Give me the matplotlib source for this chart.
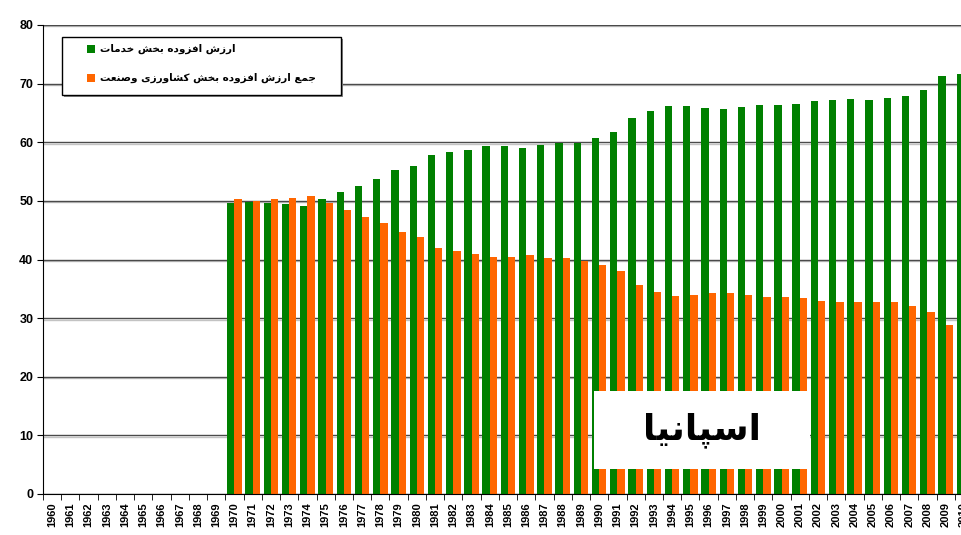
import matplotlib
matplotlib.use("Agg")
import matplotlib.pyplot as plt
import matplotlib.patheffects as pe
from matplotlib.patches import Rectangle
import numpy as np

# axis categories 1960..2010, data available from 1970
all_years = list(range(1960, 2011))
data_years = list(range(1970, 2011))

# value added share of services (%)
services = [49.6, 49.8, 49.6, 49.4, 49.1, 50.3, 51.5, 52.6, 53.7, 55.2,
            56.0, 57.9, 58.4, 58.75, 59.3, 59.3, 59.1, 59.6, 59.8, 59.9,
            60.8, 61.8, 64.2, 65.4, 66.1, 66.1, 65.8, 65.7, 66.0, 66.4,
            66.4, 66.5, 67.0, 67.2, 67.4, 67.2, 67.6, 67.9, 68.9, 71.3, 71.6]

# value added share of agriculture + industry (%)
agri_industry = [50.3, 49.9, 50.3, 50.45, 50.8, 49.6, 48.4, 47.2, 46.2, 44.7,
                 43.9, 42.0, 41.5, 41.0, 40.5, 40.5, 40.7, 40.2, 40.2, 39.8,
                 39.1, 38.1, 35.7, 34.4, 33.7, 33.9, 34.3, 34.3, 34.0, 33.6,
                 33.6, 33.5, 33.0, 32.8, 32.8, 32.8, 32.8, 32.1, 31.1, 28.9, 28.4]

label_services = "ارزش افزوده بخش خدمات"
label_agri = "جمع ارزش افزوده بخش کشاورزی وصنعت"
country = "اسپانیا"

# presentation forms: isolated, final, initial, medial
FORMS = {
    'ا': (0xFE8D, 0xFE8E, None, None),
    'ب': (0xFE8F, 0xFE90, 0xFE91, 0xFE92),
    'پ': (0xFB56, 0xFB57, 0xFB58, 0xFB59),
    'ت': (0xFE95, 0xFE96, 0xFE97, 0xFE98),
    'ج': (0xFE9D, 0xFE9E, 0xFE9F, 0xFEA0),
    'خ': (0xFEA5, 0xFEA6, 0xFEA7, 0xFEA8),
    'د': (0xFEA9, 0xFEAA, None, None),
    'ر': (0xFEAD, 0xFEAE, None, None),
    'ز': (0xFEAF, 0xFEB0, None, None),
    'س': (0xFEB1, 0xFEB2, 0xFEB3, 0xFEB4),
    'ش': (0xFEB5, 0xFEB6, 0xFEB7, 0xFEB8),
    'ص': (0xFEB9, 0xFEBA, 0xFEBB, 0xFEBC),
    'ع': (0xFEC9, 0xFECA, 0xFECB, 0xFECC),
    'ف': (0xFED1, 0xFED2, 0xFED3, 0xFED4),
    'ک': (0xFB8E, 0xFB8F, 0xFB90, 0xFB91),
    'م': (0xFEE1, 0xFEE2, 0xFEE3, 0xFEE4),
    'ن': (0xFEE5, 0xFEE6, 0xFEE7, 0xFEE8),
    'ه': (0xFEE9, 0xFEEA, 0xFEEB, 0xFEEC),
    'و': (0xFEED, 0xFEEE, None, None),
    'ی': (0xFBFC, 0xFBFD, 0xFBFE, 0xFBFF),
}


def shape(text):
    out = []
    for i, ch in enumerate(text):
        if ch not in FORMS:
            out.append(ch)
            continue
        f = FORMS[ch]
        prev = text[i - 1] if i > 0 else ''
        nxt = text[i + 1] if i + 1 < len(text) else ''
        join_prev = prev in FORMS and FORMS[prev][2] is not None
        join_next = f[2] is not None and nxt in FORMS
        if join_prev and join_next:
            c = f[3]
        elif join_prev:
            c = f[1]
        elif join_next:
            c = f[2]
        else:
            c = f[0]
        out.append(chr(c))
    return ''.join(out)[::-1]


green = '#008000'
orange = '#FF6600'

fig = plt.figure(figsize=(9.62, 5.35), dpi=100)
ax = fig.add_axes([43 / 962, 41 / 535, 930 / 962, 469 / 535])

x = np.array([all_years.index(y) for y in data_years])
w = 0.4
ax.bar(x - w / 2, services, width=w, color=green, zorder=2)
ax.bar(x + w / 2, agri_industry, width=w, color=orange, zorder=2)

ax.set_xlim(-0.5, len(all_years) - 0.5)
ax.set_ylim(0, 80)

ax.set_xticks(np.arange(len(all_years)))
ax.set_xticklabels([str(y) for y in all_years], rotation=90,
                   fontsize=8, fontweight='bold', family='Liberation Sans')
ax.set_xticks(np.arange(-0.5, len(all_years), 1), minor=True)
ax.tick_params(axis='x', which='major', length=0, pad=6)
ax.tick_params(axis='x', which='minor', length=4, direction='out', color='black')

ax.set_yticks(np.arange(0, 81, 10))
ax.set_yticklabels([str(v) for v in range(0, 81, 10)],
                   fontsize=9, fontweight='bold', family='Liberation Sans')
ax.tick_params(axis='y', length=4, direction='out', pad=3, color='black')

ax.set_axisbelow(True)
ax.yaxis.grid(True, color='#4a4a4a', lw=1.0)
for line in ax.get_ygridlines():
    line.set_path_effects([pe.SimpleLineShadow(offset=(0, -1), shadow_color='#aaaaaa', alpha=0.7),
                           pe.Normal()])

ax.spines['top'].set_visible(False)
ax.spines['right'].set_visible(False)
ax.spines['left'].set_color('black')
ax.spines['bottom'].set_color('black')

# legend box drawn by hand to match the original layout
fig.add_artist(Rectangle((64 / 962, 1 - 97 / 535), 279 / 962, 58 / 535,
                         transform=fig.transFigure, facecolor='#888888',
                         edgecolor='none', zorder=4))
fig.add_artist(Rectangle((62 / 962, 1 - 95 / 535), 279 / 962, 58 / 535,
                         transform=fig.transFigure, facecolor='white',
                         edgecolor='black', lw=1, zorder=5))
for yc, col, lab in [(49, green, label_services), (78, orange, label_agri)]:
    fig.add_artist(Rectangle((87 / 962, 1 - (yc + 4) / 535), 8 / 962, 8 / 535,
                             transform=fig.transFigure, facecolor=col,
                             edgecolor='none', zorder=6))
    fig.text(100 / 962, 1 - yc / 535, shape(lab), ha='left', va='center',
             fontsize=7.5, fontweight='bold', family=['DejaVu Sans'], zorder=6)

# country label
fig.add_artist(Rectangle((594 / 962, 1 - 469 / 535), 216 / 962, 78 / 535,
                         transform=fig.transFigure, facecolor='white',
                         edgecolor='none', zorder=5))
fig.text(702 / 962, 1 - 430 / 535, shape(country), ha='center', va='center',
         fontsize=26, fontweight='bold', family=['DejaVu Sans'], zorder=6)

fig.savefig('out.png', dpi=100)
